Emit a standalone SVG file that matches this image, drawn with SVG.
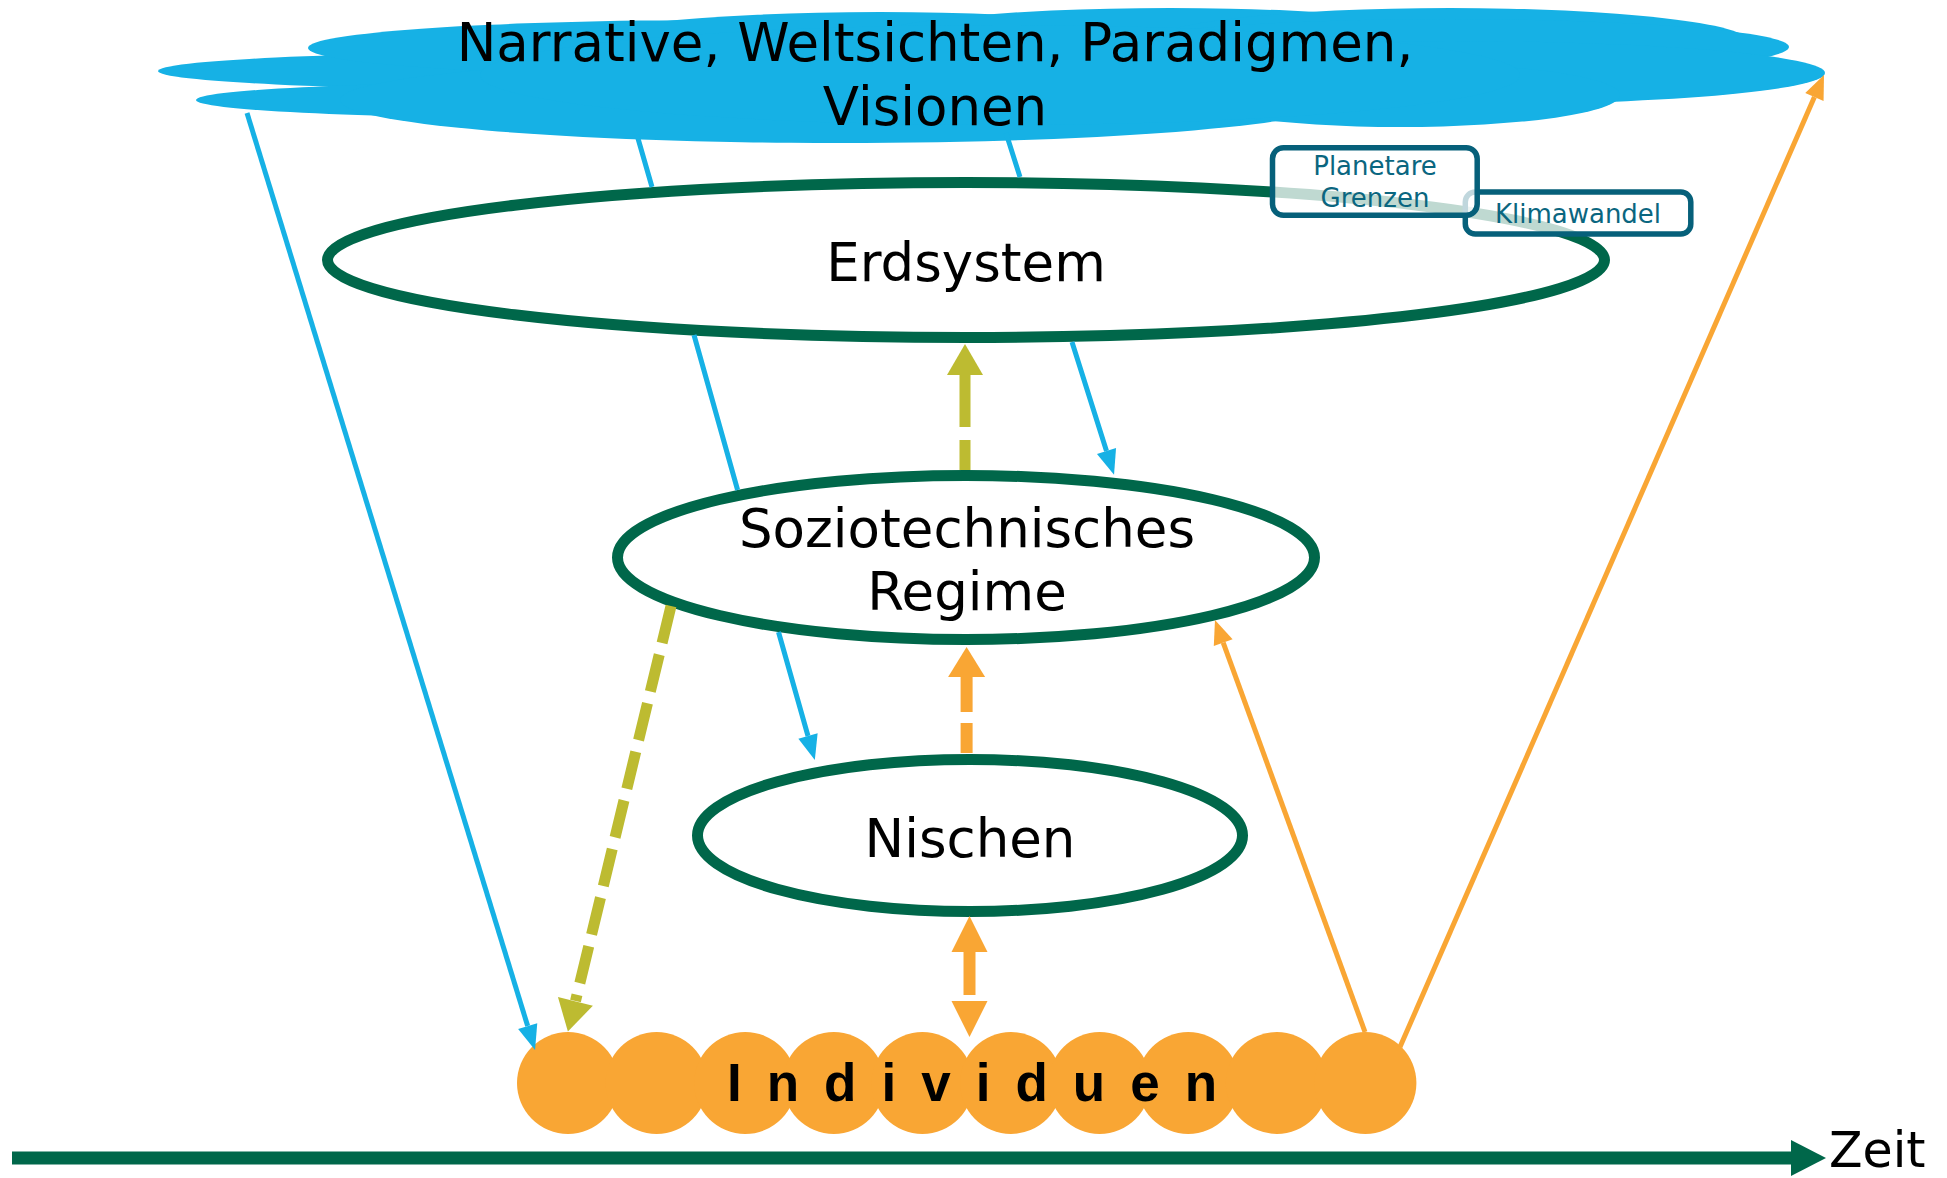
<svg xmlns="http://www.w3.org/2000/svg" width="1947" height="1178" viewBox="0 0 1947 1178">
<style>
.cloud{fill:#16B1E5}
.eco{fill:#FFFFFF;stroke:#00674A;stroke-width:11}
.lbl{font-family:"DejaVu Sans",Verdana,sans-serif;font-size:53px;fill:#000;text-anchor:middle}
.ind{fill:#F9A634}
.box{fill:#FFFFFF;fill-opacity:0.75;stroke:#06607A;stroke-width:5.5}
.boxt{font-family:"DejaVu Sans",Verdana,sans-serif;font-size:26px;fill:#0A6680;text-anchor:middle}
.blue{fill:none;stroke:#16B1E5;stroke-width:5}
.orth{fill:none;stroke:#F9A634;stroke-width:5}
.ordash{fill:none;stroke:#F9A634;stroke-width:12}
.olive{fill:none;stroke:#BDBB31;stroke-width:11}
</style>
<defs>
<marker id="mBlue" markerUnits="userSpaceOnUse" orient="auto" viewBox="0 -11 25 22" refX="0" refY="0" markerWidth="25" markerHeight="22" overflow="visible"><path d="M0,-10 L25,0 L0,10 Z" fill="#16B1E5"/></marker>
<marker id="mOrThin" markerUnits="userSpaceOnUse" orient="auto" viewBox="0 -11 25 22" refX="0" refY="0" markerWidth="25" markerHeight="22" overflow="visible"><path d="M0,-10 L24,0 L0,10 Z" fill="#F9A634"/></marker>
<marker id="mOrBig" markerUnits="userSpaceOnUse" orient="auto" viewBox="0 -18 30 36" refX="0" refY="0" markerWidth="30" markerHeight="36" overflow="visible"><path d="M0,-18.5 L30,0 L0,18.5 Z" fill="#F9A634"/></marker>
<marker id="mOrBig2" markerUnits="userSpaceOnUse" orient="auto-start-reverse" viewBox="0 -18 36 36" refX="0" refY="0" markerWidth="36" markerHeight="36" overflow="visible"><path d="M0,-18 L36,0 L0,18 Z" fill="#F9A634"/></marker>
<marker id="mOlive" markerUnits="userSpaceOnUse" orient="auto" viewBox="0 -18 31 36" refX="0" refY="0" markerWidth="31" markerHeight="36" overflow="visible"><path d="M0,-18 L31,0 L0,18 Z" fill="#BDBB31"/></marker>
<marker id="mGreen" markerUnits="userSpaceOnUse" orient="auto" viewBox="0 -18 35 36" refX="0" refY="0" markerWidth="35" markerHeight="36" overflow="visible"><path d="M0,-18 L35,0 L0,18 Z" fill="#00674A"/></marker>
</defs>

<g id="node-narrative">
<ellipse class="cloud" cx="560" cy="71" rx="402" ry="19"/>
<ellipse class="cloud" cx="560" cy="100" rx="364" ry="18"/>
<ellipse class="cloud" cx="720" cy="48" rx="412" ry="28"/>
<ellipse class="cloud" cx="880" cy="48" rx="320" ry="36"/>
<ellipse class="cloud" cx="1170" cy="42" rx="310" ry="34"/>
<ellipse class="cloud" cx="1450" cy="42" rx="300" ry="34"/>
<ellipse class="cloud" cx="1450" cy="47" rx="339" ry="28"/>
<ellipse class="cloud" cx="1450" cy="73" rx="375" ry="32"/>
<ellipse class="cloud" cx="840" cy="100" rx="500" ry="43"/>
<ellipse class="cloud" cx="1400" cy="95" rx="220" ry="32"/>
<ellipse class="cloud" cx="1000" cy="75" rx="520" ry="50"/>
<text class="lbl" x="935" y="61">Narrative, Weltsichten, Paradigmen,</text>
<text class="lbl" x="935" y="125">Visionen</text>
</g>

<g id="node-erdsystem">
<ellipse class="eco" cx="966" cy="260" rx="638.5" ry="77.5"/>
<text class="lbl" x="966" y="281">Erdsystem</text>
</g>

<g id="node-regime">
<ellipse class="eco" cx="966" cy="557.5" rx="348.5" ry="82"/>
<text class="lbl" x="967" y="547">Soziotechnisches</text>
<text class="lbl" x="967" y="610">Regime</text>
</g>

<g id="node-nischen">
<ellipse class="eco" cx="970" cy="835.5" rx="272.5" ry="76"/>
<text class="lbl" x="970" y="857">Nischen</text>
</g>

<g id="node-individuen">
<circle class="ind" cx="568" cy="1083" r="51"/>
<circle class="ind" cx="656.6" cy="1083" r="51"/>
<circle class="ind" cx="745.2" cy="1083" r="51"/>
<circle class="ind" cx="833.8" cy="1083" r="51"/>
<circle class="ind" cx="922.4" cy="1083" r="51"/>
<circle class="ind" cx="1011" cy="1083" r="51"/>
<circle class="ind" cx="1099.6" cy="1083" r="51"/>
<circle class="ind" cx="1188.2" cy="1083" r="51"/>
<circle class="ind" cx="1276.8" cy="1083" r="51"/>
<circle class="ind" cx="1365.4" cy="1083" r="51"/>
<text x="727" y="1101" style="font-family:'Liberation Sans',Arial,sans-serif;font-weight:bold;font-size:53px;letter-spacing:25px;fill:#000">Individuen</text>
</g>

<g id="node-klimawandel">
<rect class="box" x="1465.3" y="192" width="225.5" height="42" rx="10"/>
<text class="boxt" x="1578" y="223">Klimawandel</text>
</g>

<g id="node-planetare">
<rect class="box" x="1272.5" y="147.7" width="204.7" height="67.6" rx="11"/>
<text class="boxt" x="1375" y="175">Planetare</text>
<text class="boxt" x="1375" y="207">Grenzen</text>
</g>

<g id="connectors">
<path class="blue" d="M247,113 L527.7,1026.1" marker-end="url(#mBlue)"/>
<path class="blue" d="M637,135 L652,187 M694,335 L737.6,490 M778.5,632 L808,736" marker-end="url(#mBlue)"/>
<path class="blue" d="M1006,133 L1020,177 M1072,342 L1106.5,451" marker-end="url(#mBlue)"/>
<path class="orth" d="M1400,1047 L1814.4,97" marker-end="url(#mOrThin)"/>
<path class="orth" d="M1365,1032 L1223.2,642.6" marker-end="url(#mOrThin)"/>
<path class="olive" d="M965,470 L965,375" stroke-dasharray="30 13 60" marker-end="url(#mOlive)"/>
<path class="olive" d="M671,606 L575.5,1001" stroke-dasharray="38 12"/>
<path d="M575.5,1001 L575.4,1001.4" fill="none" stroke="none" marker-end="url(#mOlive)"/>
<path class="ordash" d="M966.6,753 L966.6,677" stroke-dasharray="30 11 60" marker-end="url(#mOrBig)"/>
<path class="ordash" d="M969.5,952 L969.5,1001" stroke-dasharray="43 100" marker-start="url(#mOrBig2)" marker-end="url(#mOrBig2)"/>
</g>

<g id="zeitachse">
<path d="M12,1158 L1791,1158" fill="none" stroke="#00674A" stroke-width="13" marker-end="url(#mGreen)"/>
<text x="1829" y="1167" style="font-family:'DejaVu Sans',Verdana,sans-serif;font-size:49px;fill:#000">Zeit</text>
</g>
</svg>
